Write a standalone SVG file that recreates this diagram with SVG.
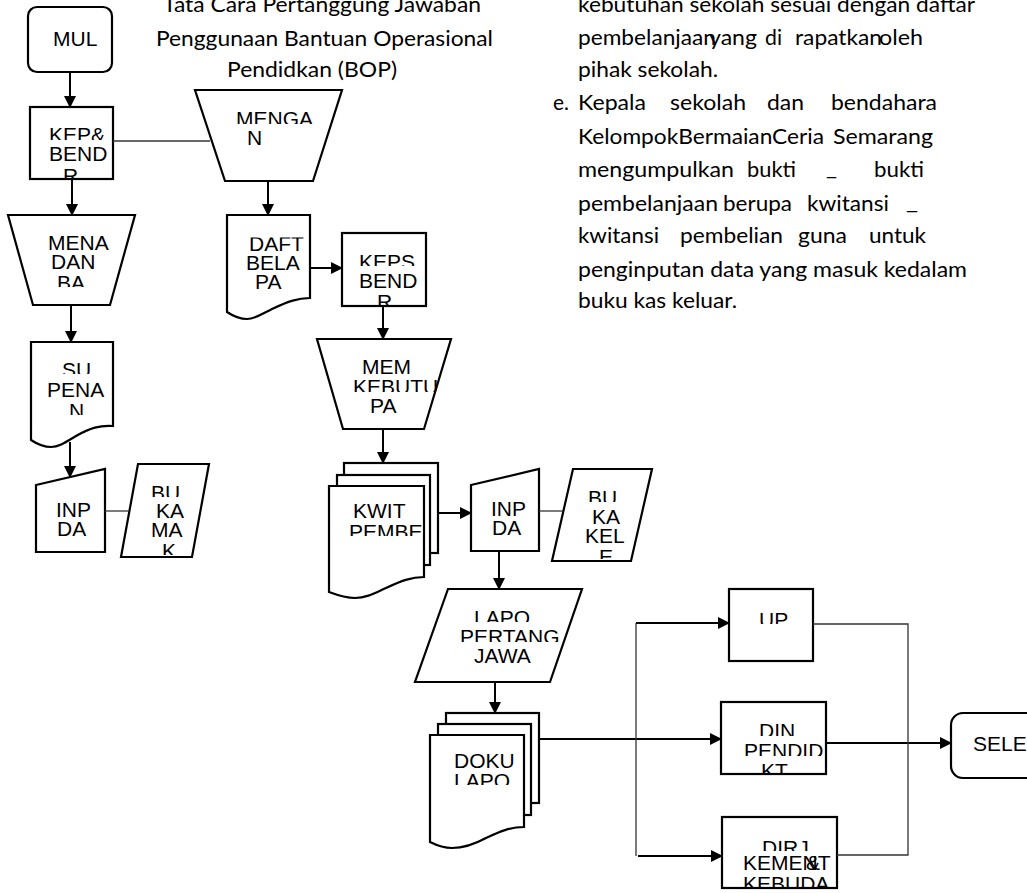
<svg xmlns="http://www.w3.org/2000/svg" width="1027" height="893" viewBox="0 0 1027 893">
<style>
.s{fill:#fff;stroke:#000;stroke-width:2.2;stroke-linejoin:miter}
.l{font-family:"Liberation Sans",Arial,sans-serif;font-size:21px;fill:#000}
.p{font-family:Lato,"Open Sans",sans-serif;font-size:22px;fill:#000}
.c{fill:none;stroke:#000;stroke-width:2;marker-end:url(#ah)}
.t{fill:none;stroke:#333;stroke-width:1.3}
</style>
<defs>
<marker id="ah" markerUnits="userSpaceOnUse" markerWidth="12" markerHeight="12" refX="11" refY="6" orient="auto">
<path d="M0,0 L12,6 L0,12 Z" fill="#000"/>
</marker>
<clipPath id="k1a"><rect x="0" y="100" width="1027" height="40"/></clipPath>
<clipPath id="k1c"><rect x="0" y="150" width="1027" height="28"/></clipPath>
<clipPath id="mg"><rect x="0" y="90" width="1027" height="34"/></clipPath>
<clipPath id="mn"><rect x="0" y="250" width="1027" height="37"/></clipPath>
<clipPath id="su"><rect x="0" y="340" width="1027" height="34"/></clipPath>
<clipPath id="sn"><rect x="0" y="400" width="1027" height="15"/></clipPath>
<clipPath id="b1a"><rect x="0" y="470" width="1027" height="27"/></clipPath>
<clipPath id="b1d"><rect x="0" y="530" width="1027" height="25"/></clipPath>
<clipPath id="df"><rect x="0" y="237.5" width="1027" height="30"/></clipPath>
<clipPath id="k2a"><rect x="0" y="240" width="1027" height="26"/></clipPath>
<clipPath id="k2c"><rect x="0" y="290" width="1027" height="15"/></clipPath>
<clipPath id="mb"><rect x="0" y="376" width="1027" height="16"/></clipPath>
<clipPath id="kp"><rect x="0" y="520" width="1027" height="16"/></clipPath>
<clipPath id="b2a"><rect x="0" y="480" width="1027" height="22"/></clipPath>
<clipPath id="b2d"><rect x="0" y="545" width="1027" height="14"/></clipPath>
<clipPath id="la"><rect x="0" y="600" width="1027" height="22"/></clipPath>
<clipPath id="lb"><rect x="0" y="626" width="1027" height="16"/></clipPath>
<clipPath id="dl"><rect x="0" y="772" width="1027" height="13"/></clipPath>
<clipPath id="up"><rect x="0" y="600" width="1027" height="24"/></clipPath>
<clipPath id="da"><rect x="0" y="710" width="1027" height="26"/></clipPath>
<clipPath id="db"><rect x="0" y="740" width="1027" height="16"/></clipPath>
<clipPath id="dc"><rect x="0" y="760" width="1027" height="14"/></clipPath>
<clipPath id="ra"><rect x="0" y="825" width="1027" height="26"/></clipPath>
<clipPath id="rc"><rect x="0" y="874" width="1027" height="13"/></clipPath>
</defs>
<rect x="0" y="0" width="1027" height="893" fill="#fff"/>

<g id="title">
<text class="p" x="163" y="12" textLength="318" lengthAdjust="spacingAndGlyphs">Tata Cara Pertanggung Jawaban</text>
<text class="p" x="156" y="46" textLength="337" lengthAdjust="spacingAndGlyphs">Penggunaan Bantuan Operasional</text>
<text class="p" x="227" y="77" textLength="170" lengthAdjust="spacingAndGlyphs">Pendidkan (BOP)</text>
</g>

<g id="description">
<text class="p" x="578" y="12" textLength="397" lengthAdjust="spacingAndGlyphs">kebutuhan sekolah sesuai dengan daftar</text>
<text class="p" x="578" y="45" textLength="138" lengthAdjust="spacingAndGlyphs">pembelanjaan</text>
<text class="p" x="709" y="45" textLength="48" lengthAdjust="spacingAndGlyphs">yang</text>
<text class="p" x="765" y="45" textLength="17" lengthAdjust="spacingAndGlyphs">di</text>
<text class="p" x="795" y="45" textLength="87" lengthAdjust="spacingAndGlyphs">rapatkan</text>
<text class="p" x="879" y="45" textLength="44" lengthAdjust="spacingAndGlyphs">oleh</text>
<text class="p" x="578" y="77" textLength="140" lengthAdjust="spacingAndGlyphs">pihak sekolah.</text>
<text class="p" x="553" y="110" textLength="16" lengthAdjust="spacingAndGlyphs">e.</text>
<text class="p" x="578" y="110" textLength="68" lengthAdjust="spacingAndGlyphs">Kepala</text>
<text class="p" x="670" y="110" textLength="76" lengthAdjust="spacingAndGlyphs">sekolah</text>
<text class="p" x="767" y="110" textLength="37" lengthAdjust="spacingAndGlyphs">dan</text>
<text class="p" x="831" y="110" textLength="106" lengthAdjust="spacingAndGlyphs">bendahara</text>
<text class="p" x="578" y="144" textLength="246" lengthAdjust="spacingAndGlyphs">KelompokBermaianCeria</text>
<text class="p" x="833" y="144" textLength="100" lengthAdjust="spacingAndGlyphs">Semarang</text>
<text class="p" x="578" y="177" textLength="156" lengthAdjust="spacingAndGlyphs">mengumpulkan</text>
<text class="p" x="747" y="177" textLength="49" lengthAdjust="spacingAndGlyphs">bukti</text>
<text class="p" x="826" y="175" textLength="11" lengthAdjust="spacingAndGlyphs">_</text>
<text class="p" x="874" y="177" textLength="50" lengthAdjust="spacingAndGlyphs">bukti</text>
<text class="p" x="578" y="211" textLength="140" lengthAdjust="spacingAndGlyphs">pembelanjaan</text>
<text class="p" x="723" y="211" textLength="69" lengthAdjust="spacingAndGlyphs">berupa</text>
<text class="p" x="807" y="211" textLength="82" lengthAdjust="spacingAndGlyphs">kwitansi</text>
<text class="p" x="906" y="209" textLength="12" lengthAdjust="spacingAndGlyphs">_</text>
<text class="p" x="578" y="243" textLength="81" lengthAdjust="spacingAndGlyphs">kwitansi</text>
<text class="p" x="680" y="243" textLength="103" lengthAdjust="spacingAndGlyphs">pembelian</text>
<text class="p" x="798" y="243" textLength="49" lengthAdjust="spacingAndGlyphs">guna</text>
<text class="p" x="869" y="243" textLength="57" lengthAdjust="spacingAndGlyphs">untuk</text>
<text class="p" x="578" y="277" textLength="389" lengthAdjust="spacingAndGlyphs">penginputan data yang masuk kedalam</text>
<text class="p" x="578" y="308" textLength="159" lengthAdjust="spacingAndGlyphs">buku kas keluar.</text>
</g>

<g id="n-mulai">
<rect class="s" x="28" y="7" width="84" height="65" rx="9"/>
<text class="l" x="53" y="46">MUL</text>
</g>
<g id="n-kepsek1">
<rect class="s" x="30" y="107" width="83" height="72"/>
<text class="l" x="49" y="142" clip-path="url(#k1a)">KEP&amp;</text>
<text class="l" x="49" y="161">BEND</text>
<text class="l" x="63" y="183" clip-path="url(#k1c)">R</text>
</g>
<g id="n-mengajukan">
<polygon class="s" points="195,90 342,90 313,181 225,181"/>
<text class="l" x="236" y="126" clip-path="url(#mg)">MENGA</text>
<text class="l" x="247" y="145">N</text>
</g>
<g id="n-menerima">
<polygon class="s" points="8,215 135,215 110,305 33,305"/>
<text class="l" x="48" y="250">MENA</text>
<text class="l" x="51" y="269">DAN</text>
<text class="l" x="57" y="290" clip-path="url(#mn)">BA</text>
</g>
<g id="n-surat">
<path class="s" d="M31,342 H113 V426 C100,425 90,428 76,436 C66,442 59,447 51,447 C43,447 37,444 31,440 Z"/>
<text class="l" x="62" y="377" clip-path="url(#su)">SU</text>
<text class="l" x="47" y="397">PENA</text>
<text class="l" x="69" y="418" clip-path="url(#sn)">N</text>
</g>
<g id="n-input1">
<polygon class="s" points="36,485 105,469 105,552 36,552"/>
<text class="l" x="56" y="517">INP</text>
<text class="l" x="57" y="536">DA</text>
</g>
<g id="n-bukukas1">
<polygon class="s" points="138,464 209,464 192,557 121,557"/>
<text class="l" x="151" y="500" clip-path="url(#b1a)">BU</text>
<text class="l" x="156" y="518">KA</text>
<text class="l" x="151" y="537">MA</text>
<text class="l" x="162" y="558" clip-path="url(#b1d)">K</text>
</g>
<g id="n-daftar">
<path class="s" d="M227,215 H310 V298 C297,298 287,302 272,309 C262,314 255,319 247,319 C239,319 233,316 227,312 Z"/>
<text class="l" x="249" y="251" clip-path="url(#df)">DAFT</text>
<text class="l" x="246" y="270">BELA</text>
<text class="l" x="255" y="289">PA</text>
</g>
<g id="n-kepsek2">
<rect class="s" x="342" y="233" width="84" height="73"/>
<text class="l" x="359" y="269" clip-path="url(#k2a)">KEPS</text>
<text class="l" x="359" y="288">BEND</text>
<text class="l" x="377" y="309" clip-path="url(#k2c)">R</text>
</g>
<g id="n-membeli">
<polygon class="s" points="317,339 451,339 424,429 343,429"/>
<text class="l" x="362" y="374">MEM</text>
<text class="l" x="353" y="394" clip-path="url(#mb)">KEBUTU</text>
<text class="l" x="370" y="413">PA</text>
</g>
<g id="n-kwitansi">
<rect class="s" x="344" y="463" width="94" height="90"/>
<rect class="s" x="337" y="475" width="93" height="90"/>
<path class="s" d="M329,486 H424 V577 C411,577 401,581 386,588 C375,593 366,598 355,598 C345,598 337,595 329,592 Z"/>
<text class="l" x="353" y="518">KWIT</text>
<text class="l" x="349" y="539" clip-path="url(#kp)">PEMBE</text>
</g>
<g id="n-input2">
<polygon class="s" points="471,485 539,469 539,551 471,551"/>
<text class="l" x="491" y="516">INP</text>
<text class="l" x="492" y="535">DA</text>
</g>
<g id="n-bukukas2">
<polygon class="s" points="573,469 652,469 631,561 552,561"/>
<text class="l" x="588" y="505" clip-path="url(#b2a)">BU</text>
<text class="l" x="592" y="524">KA</text>
<text class="l" x="585" y="543">KEL</text>
<text class="l" x="599" y="564" clip-path="url(#b2d)">E</text>
</g>
<g id="n-laporan">
<polygon class="s" points="448,589 582,589 550,682 415,682"/>
<text class="l" x="474" y="625" clip-path="url(#la)">LAPO</text>
<text class="l" x="460" y="644" clip-path="url(#lb)">PERTANG</text>
<text class="l" x="474" y="663">JAWA</text>
</g>
<g id="n-dokumen">
<rect class="s" x="446" y="713" width="93" height="90"/>
<rect class="s" x="438" y="724" width="93" height="91"/>
<path class="s" d="M430,735 H524 V827 C511,827 501,831 486,838 C475,844 463,848 452,848 C443,848 436,845 430,842 Z"/>
<text class="l" x="454" y="768">DOKU</text>
<text class="l" x="454" y="788" clip-path="url(#dl)">LAPO</text>
</g>
<g id="n-upt">
<rect class="s" x="729" y="589" width="84" height="72"/>
<text class="l" x="759" y="627" clip-path="url(#up)">UP</text>
</g>
<g id="n-dinas">
<rect class="s" x="721" y="702" width="105" height="72"/>
<text class="l" x="759" y="738" clip-path="url(#da)">DIN</text>
<text class="l" x="744" y="758" clip-path="url(#db)">PENDID</text>
<text class="l" x="761" y="778" clip-path="url(#dc)">KT</text>
</g>
<g id="n-dirjen">
<rect class="s" x="722" y="817" width="115" height="71"/>
<text class="l" x="762" y="855" clip-path="url(#ra)">DIRJ</text>
<text class="l" x="743" y="870">KEMENT</text>
<text class="l" x="806" y="870">&amp;</text>
<text class="l" x="743" y="891" clip-path="url(#rc)">KEBUDA</text>
</g>
<g id="n-selesai">
<rect class="s" x="951" y="713" width="92" height="65" rx="12"/>
<text class="l" x="973" y="751">SELE</text>
</g>

<g id="connectors">
<line class="c" x1="70" y1="72" x2="70" y2="107"/>
<line class="c" x1="72" y1="179" x2="72" y2="215"/>
<line class="c" x1="71" y1="305" x2="71" y2="342"/>
<line class="c" x1="70" y1="442" x2="70" y2="477"/>
<line class="c" x1="268" y1="181" x2="268" y2="215"/>
<line class="c" x1="310" y1="268" x2="342" y2="268"/>
<line class="c" x1="383" y1="306" x2="383" y2="339"/>
<line class="c" x1="383" y1="429" x2="383" y2="463"/>
<line class="c" x1="438" y1="513" x2="471" y2="513"/>
<line class="c" x1="499" y1="551" x2="499" y2="589"/>
<line class="c" x1="495" y1="682" x2="495" y2="713"/>
<line class="c" x1="540" y1="739" x2="721" y2="739"/>
<line class="t" x1="636" y1="623" x2="636" y2="856"/>
<line class="c" x1="636" y1="623" x2="729" y2="623"/>
<line class="c" x1="638" y1="856" x2="722" y2="856"/>
<line class="c" x1="826" y1="743" x2="951" y2="743"/>
<line class="t" x1="113" y1="141" x2="210" y2="141"/>
<line class="t" x1="105" y1="511" x2="129" y2="511"/>
<line class="t" x1="539" y1="511" x2="563" y2="511"/>
<polyline class="t" points="813,624 908,624 908,855 837,855"/>
</g>
</svg>
